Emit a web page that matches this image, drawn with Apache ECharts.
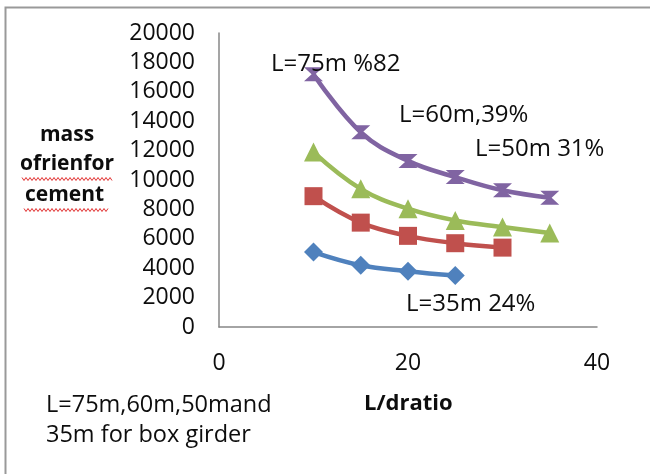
<!DOCTYPE html>
<html>
<head>
<meta charset="utf-8">
<script src="https://cdn.jsdelivr.net/npm/echarts@6/dist/echarts.min.js"></script>
<style>
  html, body { margin: 0; padding: 0; background: #fff; }
  #main { width: 650px; height: 474px; }
</style>
</head>
<body>
<div id="main"></div>
<script>
// data
let ratios = [10, 15, 20, 25, 30, 35]
let mass35 = [5100, 4200, 3800, 3500]
let mass50 = [8900, 7100, 6200, 5700, 5400]
let mass60 = [11900, 9400, 8050, 7250, 6800, 6400]
let mass75 = [17200, 13250, 11300, 10200, 9300, 8800]

let yTicks = [0, 2000, 4000, 6000, 8000, 10000, 12000, 14000, 16000, 18000, 20000]
let xTicks = [0, 20, 40]

let font = '"Open Sans", "Noto Sans", sans-serif'

function pairs(xs, ys) {
  let out = []
  for (let i = 0; i < ys.length; i++) {
    out.push([xs[i], ys[i]])
  }
  return out
}

// red squiggle under the spell-checked words
function squiggle(x0, x1, y) {
  let pts = []
  let up = true
  for (let x = x0; x <= x1; x += 2) {
    pts.push([x, up ? y - 1.5 : y + 1.5])
    up = !up
  }
  return pts
}

function makeSeries(name, values, color, symbol, size) {
  return {
    name: name,
    type: 'line',
    smooth: 0.4,
    data: pairs(ratios, values),
    symbol: symbol,
    symbolSize: size,
    lineStyle: { color: color, width: 4.5 },
    itemStyle: { color: color },
    z: 3
  }
}

let chart = echarts.init(document.getElementById('main'))

let option = {
  animation: false,
  grid: { left: 219, top: 33, right: 53, bottom: 147 },
  xAxis: {
    type: 'value',
    min: 0,
    max: 40,
    interval: 20,
    splitLine: { show: false },
    axisTick: { show: false },
    axisLine: { lineStyle: { color: '#878787', width: 1.5 } },
    axisLabel: {
      margin: 25,
      color: '#0d0d0d',
      fontSize: 23,
      fontFamily: font,
      formatter: function (v) { return xTicks.indexOf(v) >= 0 ? String(v) : '' }
    }
  },
  yAxis: {
    type: 'value',
    min: 0,
    max: 20000,
    interval: 2000,
    splitLine: { show: false },
    axisTick: { show: false },
    axisLine: { show: true, lineStyle: { color: '#878787', width: 1.5 } },
    axisLabel: {
      margin: 24,
      color: '#0d0d0d',
      fontSize: 23,
      fontFamily: font,
      formatter: function (v) { return yTicks.indexOf(v) >= 0 ? String(v) : '' }
    }
  },
  series: [
    makeSeries('L=35m', mass35, '#4F81BD', 'diamond', 19),
    makeSeries('L=50m', mass50, '#C0504D', 'rect', 18),
    makeSeries('L=60m', mass60, '#9BBB59', 'triangle', 19),
    makeSeries('L=75m', mass75, '#8064A2', 'path://M0,0 L20,0 L12,7 L20,14 L0,14 L8,7 Z', [19, 14])
  ],
  graphic: [
    {
      type: 'rect',
      shape: { x: 5.5, y: 7.5, width: 700, height: 500 },
      style: { fill: 'none', stroke: '#999', lineWidth: 2 },
      silent: true
    },
    { type: 'text', left: 40, top: 125, style: { text: 'mass', font: 'bold 21px ' + font, fill: '#0d0d0d' } },
    { type: 'text', left: 20, top: 154, style: { text: 'ofrienfor', font: 'bold 21px ' + font, fill: '#0d0d0d' } },
    { type: 'text', left: 25, top: 185, style: { text: 'cement', font: 'bold 21px ' + font, fill: '#0d0d0d' } },
    { type: 'polyline', shape: { points: squiggle(22, 112, 179) }, style: { stroke: '#e03030', lineWidth: 1, fill: 'none' } },
    { type: 'polyline', shape: { points: squiggle(24, 108, 210) }, style: { stroke: '#e03030', lineWidth: 1, fill: 'none' } },
    { type: 'text', left: 364, top: 393, style: { text: 'L/dratio', font: 'bold 22px ' + font, fill: '#0d0d0d' } },
    { type: 'text', left: 46, top: 393, style: { text: 'L=75m,60m,50mand', font: '23.5px ' + font, fill: '#0d0d0d' } },
    { type: 'text', left: 46, top: 423, style: { text: '35m for box girder', font: '23.5px ' + font, fill: '#0d0d0d' } },
    { type: 'text', left: 271, top: 52, z: 10, style: { text: 'L=75m %82', font: '24px ' + font, fill: '#0d0d0d' } },
    { type: 'text', left: 399, top: 103, z: 10, style: { text: 'L=60m,39%', font: '24px ' + font, fill: '#0d0d0d' } },
    { type: 'text', left: 475, top: 137, z: 10, style: { text: 'L=50m 31%', font: '24px ' + font, fill: '#0d0d0d' } },
    { type: 'text', left: 406, top: 292, z: 10, style: { text: 'L=35m 24%', font: '24px ' + font, fill: '#0d0d0d' } }
  ]
}

chart.setOption(option)
</script>
</body>
</html>
